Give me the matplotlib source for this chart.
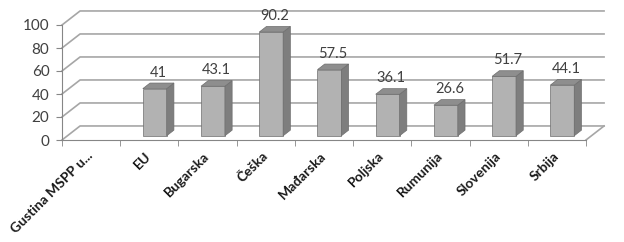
import numpy as np
import matplotlib
matplotlib.use('Agg')
import matplotlib.pyplot as plt
from matplotlib.patches import Polygon

plt.rcParams['font.family'] = ['Lato', 'DejaVu Sans']

categories = ['Gustina MSPP u...', 'EU', 'Bugarska', 'Češka', 'Mađarska',
              'Poljska', 'Rumunija', 'Slovenija', 'Srbija']
values = [np.nan, 41, 43.1, 90.2, 57.5, 36.1, 26.6, 51.7, 44.1]
value_labels = ['', '41', '43.1', '90.2', '57.5', '36.1', '26.6', '51.7', '44.1']
y_ticks = [0, 20, 40, 60, 80, 100]

# fake 3d: depth offset of the back wall, in data units
DX = 0.31
DY = 12.2
F0 = 0.3      # front of bars, fraction of depth
FD = 0.4      # bar depth, fraction of depth
W = 0.41      # bar width

GRID = '#a6a6a6'
FRONT = '#b2b2b2'
SIDE = '#7e7e7e'
TOP = '#8e8e8e'
EDGE = '#6e6e6e'
TXT = '#404040'

fig = plt.figure(figsize=(6.24, 2.42), dpi=100)
ax = fig.add_axes([62 / 624, 102 / 242, 524 / 624, 115 / 242])
n = len(categories)
x = np.arange(n)
ax.set_xlim(-0.5, n - 0.5)
ax.set_ylim(0, 100)

# walls and gridlines
x0, x1 = -0.5, n - 0.5
for v in y_ticks:
    ax.plot([x0, x0 + DX, x1 + DX], [v, v + DY, v + DY], color=GRID, lw=1.2,
            clip_on=False, zorder=1)
ax.plot([x1, x1 + DX], [0, DY], color=GRID, lw=1.2, clip_on=False, zorder=1)

# bars
vals = np.array(values, dtype=float)
ok = ~np.isnan(vals)
bx = x[ok] + F0 * DX
by = F0 * DY
ax.bar(bx, vals[ok], bottom=by, width=W, color=FRONT, edgecolor=EDGE,
       linewidth=0.5, zorder=3, clip_on=False)
for xc, v, lab in zip(bx, vals[ok], np.array(value_labels)[ok]):
    l, r = xc - W / 2, xc + W / 2
    b, t = by, by + v
    ddx, ddy = FD * DX, FD * DY
    side = Polygon([(r, b), (r + ddx, b + ddy), (r + ddx, t + ddy), (r, t)],
                   closed=True, fc=SIDE, ec=EDGE, lw=0.5, zorder=3, clip_on=False)
    top = Polygon([(l, t), (r, t), (r + ddx, t + ddy), (l + ddx, t + ddy)],
                  closed=True, fc=TOP, ec=EDGE, lw=0.5, zorder=3, clip_on=False)
    ax.add_patch(side)
    ax.add_patch(top)
    ax.text(xc + ddx / 2, t + ddy + 3, lab, ha='center', va='bottom',
            fontsize=10.5, color=TXT, clip_on=False)

# axes
for s in ['top', 'right']:
    ax.spines[s].set_visible(False)
for s in ['left', 'bottom']:
    ax.spines[s].set_color('#868686')
    ax.spines[s].set_zorder(2)
ax.set_yticks(y_ticks)
ax.tick_params(axis='y', length=4, color='#868686', labelcolor=TXT,
               labelsize=11, pad=5)
ax.set_xticks(x)
ax.set_xticklabels(categories, rotation=45, ha='right', va='center',
                   rotation_mode='anchor', fontweight='bold', fontsize=10,
                   color='#1a1a1a')
ax.tick_params(axis='x', length=0, pad=10)
ax.set_xticks(np.arange(n + 1) - 0.5, minor=True)
ax.tick_params(axis='x', which='minor', length=4, color='#868686')
ax.set_facecolor('none')

fig.savefig('out.png', dpi=100)
